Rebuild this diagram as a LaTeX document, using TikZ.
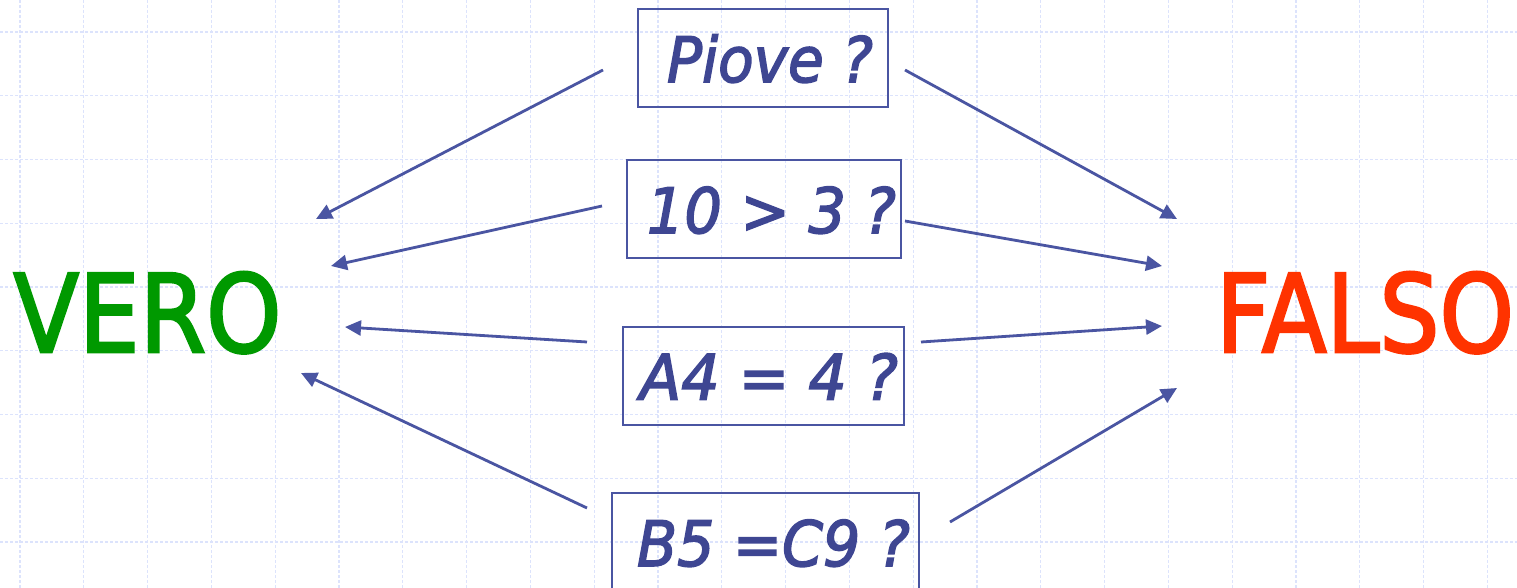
\documentclass[tikz,border=0pt]{standalone}
\usepackage{fontspec}
\setmainfont{DejaVu Sans}
\newfontfamily\heavyfont{DejaVu Sans}[FakeBold=2.5]
\usetikzlibrary{arrows.meta}
\definecolor{qblue}{RGB}{62,70,146}
\definecolor{lineblue}{RGB}{74,85,162}
\definecolor{gridblue}{RGB}{220,227,252}
\definecolor{verogreen}{RGB}{0,153,0}
\definecolor{falsored}{RGB}{255,51,0}
\tikzset{
  qbox/.style={draw=lineblue, line width=2pt, minimum height=98pt, inner sep=0pt,
    text height=48pt, text depth=0pt, text=qblue,
    font=\heavyfont\fontsize{62.5}{70}\selectfont\itshape},
  bigword/.style={inner sep=0pt, text height=79pt, text depth=0pt,
    font=\heavyfont\fontsize{108}{120}\selectfont},
  gridline/.style={draw=gridblue, line width=1.3pt, dash pattern=on 3pt off 2pt},
  conn/.style={draw=lineblue, line width=2.8pt,
    -{Triangle[length=16pt,width=15pt]}}
}
\begin{document}
\begin{tikzpicture}[x=1pt,y=-1pt]
\useasboundingbox[fill=white] (0,0) rectangle (1517,588);
% grid
\foreach \i in {0,...,23} \draw[gridline] ({20+63.8*\i},0) -- ({20+63.8*\i},588);
\foreach \j in {0,...,8} \draw[gridline] (0,{32+63.75*\j}) -- (1517,{32+63.75*\j});
% main words
\node[bigword, text=verogreen] (vero) at (147.5,312.5) {\resizebox{268pt}{\height}{VERO}};
\node[bigword, text=falsored] (falso) at (1365,312.5) {\resizebox{298pt}{\height}{FALSO}};
% question boxes
\node[qbox, minimum width=250pt] (piove) at (763,58) {\hspace*{14pt}\resizebox{206pt}{\height}{Piove ?}};
\node[qbox, minimum width=274pt] (dieci) at (764,209) {\hspace*{15pt}\resizebox{249pt}{\height}{10 > 3 ?}};
\node[qbox, minimum width=281pt] (afour) at (763.5,375.5) {\hspace*{11pt}\resizebox{258pt}{\height}{A4 = 4 ?}};
\node[qbox, minimum width=307pt] (bfive) at (765.5,542) {\hspace*{16pt}\resizebox{273pt}{\height}{B5 =C9 ?}};
% connector end points
\coordinate (a1s) at (603,70);  \coordinate (a1e) at (316,219);
\coordinate (a2s) at (602,206); \coordinate (a2e) at (331,266);
\coordinate (a3s) at (587,342); \coordinate (a3e) at (345,327);
\coordinate (a4s) at (587,508); \coordinate (a4e) at (301,373);
\coordinate (b1s) at (905,70);  \coordinate (b1e) at (1177,219);
\coordinate (b2s) at (905,221); \coordinate (b2e) at (1162,266);
\coordinate (b3s) at (921,342); \coordinate (b3e) at (1162,326);
\coordinate (b4s) at (950,522); \coordinate (b4e) at (1177,388);
% connectors
\draw[conn] (a1s) -- (a1e);
\draw[conn] (a2s) -- (a2e);
\draw[conn] (a3s) -- (a3e);
\draw[conn] (a4s) -- (a4e);
\draw[conn] (b1s) -- (b1e);
\draw[conn] (b2s) -- (b2e);
\draw[conn] (b3s) -- (b3e);
\draw[conn] (b4s) -- (b4e);
\end{tikzpicture}
\end{document}
